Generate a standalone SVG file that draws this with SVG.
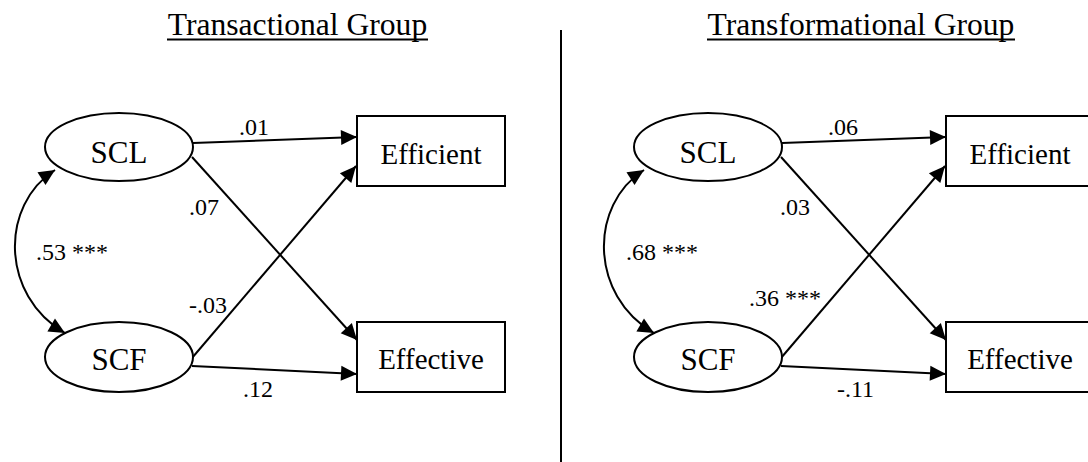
<svg xmlns="http://www.w3.org/2000/svg" width="1088" height="462" viewBox="0 0 1088 462" font-family="'Liberation Serif', 'Times New Roman', serif">
<style>
.title{font-family:"Liberation Serif","Times New Roman",serif;font-size:31.6px;text-anchor:middle;fill:#000}
.node{fill:#fff;stroke:#000;stroke-width:2}
.lbl{font-family:"Liberation Serif","Times New Roman",serif;text-anchor:middle;fill:#000}
.big{font-size:31px}
.med{font-size:29px}
.num{font-family:"Liberation Serif","Times New Roman",serif;font-size:24px;fill:#000}
.edge{fill:none;stroke:#000;stroke-width:2}
</style>
<defs>
<marker id="ah" viewBox="-17 -9 18 18" refX="0" refY="0" markerWidth="18" markerHeight="18" markerUnits="userSpaceOnUse" orient="auto-start-reverse">
<path d="M0,0 L-16,-7.5 L-16,7.5 Z" fill="#000"/>
</marker>
</defs>
<rect width="1088" height="462" fill="#fff"/>
<g id="titles">
<text class="title" x="297.5" y="35">Transactional Group</text>
<line x1="167" y1="39.5" x2="428" y2="39.5" stroke="#000" stroke-width="2"/>
<text class="title" x="861" y="35">Transformational Group</text>
<line x1="707" y1="39.5" x2="1015" y2="39.5" stroke="#000" stroke-width="2"/>
</g>
<line id="divider" x1="561" y1="30" x2="561" y2="462" stroke="#000" stroke-width="2"/>
<g id="connectors">
<path class="edge" d="M193,143 L357,137" marker-end="url(#ah)"/>
<path class="edge" d="M192,157 L357,340" marker-end="url(#ah)"/>
<path class="edge" d="M192,358 L356,166" marker-end="url(#ah)"/>
<path class="edge" d="M192,366 L357,374" marker-end="url(#ah)"/>
<path class="edge" d="M55,170 C0,205 0,295 65,333" marker-start="url(#ah)" marker-end="url(#ah)"/>
<path class="edge" d="M782,143 L946,137" marker-end="url(#ah)"/>
<path class="edge" d="M781,157 L946,340" marker-end="url(#ah)"/>
<path class="edge" d="M781,358 L945,166" marker-end="url(#ah)"/>
<path class="edge" d="M781,366 L946,374" marker-end="url(#ah)"/>
<path class="edge" d="M644,170 C589,205 589,295 654,333" marker-start="url(#ah)" marker-end="url(#ah)"/>
</g>
<g id="edge-labels">
<text class="num" x="239" y="135">.01</text>
<text class="num" x="189" y="215">.07</text>
<text class="num" x="36" y="260">.53 ***</text>
<text class="num" x="189" y="313">-.03</text>
<text class="num" x="243" y="397">.12</text>
<text class="num" x="828" y="135">.06</text>
<text class="num" x="780" y="215">.03</text>
<text class="num" x="626" y="260">.68 ***</text>
<text class="num" x="749" y="306">.36 ***</text>
<text class="num" x="837" y="397">-.11</text>
</g>
<g id="t-SCL"><ellipse class="node" cx="119" cy="147" rx="74" ry="34"/><text class="lbl big" x="119" y="163">SCL</text></g>
<g id="t-SCF"><ellipse class="node" cx="119" cy="357" rx="74" ry="35"/><text class="lbl big" x="119" y="370">SCF</text></g>
<g id="t-Efficient"><rect class="node" x="357" y="116" width="148" height="70"/><text class="lbl med" x="431" y="164">Efficient</text></g>
<g id="t-Effective"><rect class="node" x="357" y="322" width="148" height="70"/><text class="lbl med" x="431" y="369">Effective</text></g>
<g id="f-SCL"><ellipse class="node" cx="708" cy="147" rx="74" ry="34"/><text class="lbl big" x="708" y="163">SCL</text></g>
<g id="f-SCF"><ellipse class="node" cx="708" cy="357" rx="74" ry="35"/><text class="lbl big" x="708" y="370">SCF</text></g>
<g id="f-Efficient"><rect class="node" x="946" y="116" width="150" height="70"/><text class="lbl med" x="1020" y="164">Efficient</text></g>
<g id="f-Effective"><rect class="node" x="946" y="322" width="150" height="70"/><text class="lbl med" x="1020" y="369">Effective</text></g>
</svg>
